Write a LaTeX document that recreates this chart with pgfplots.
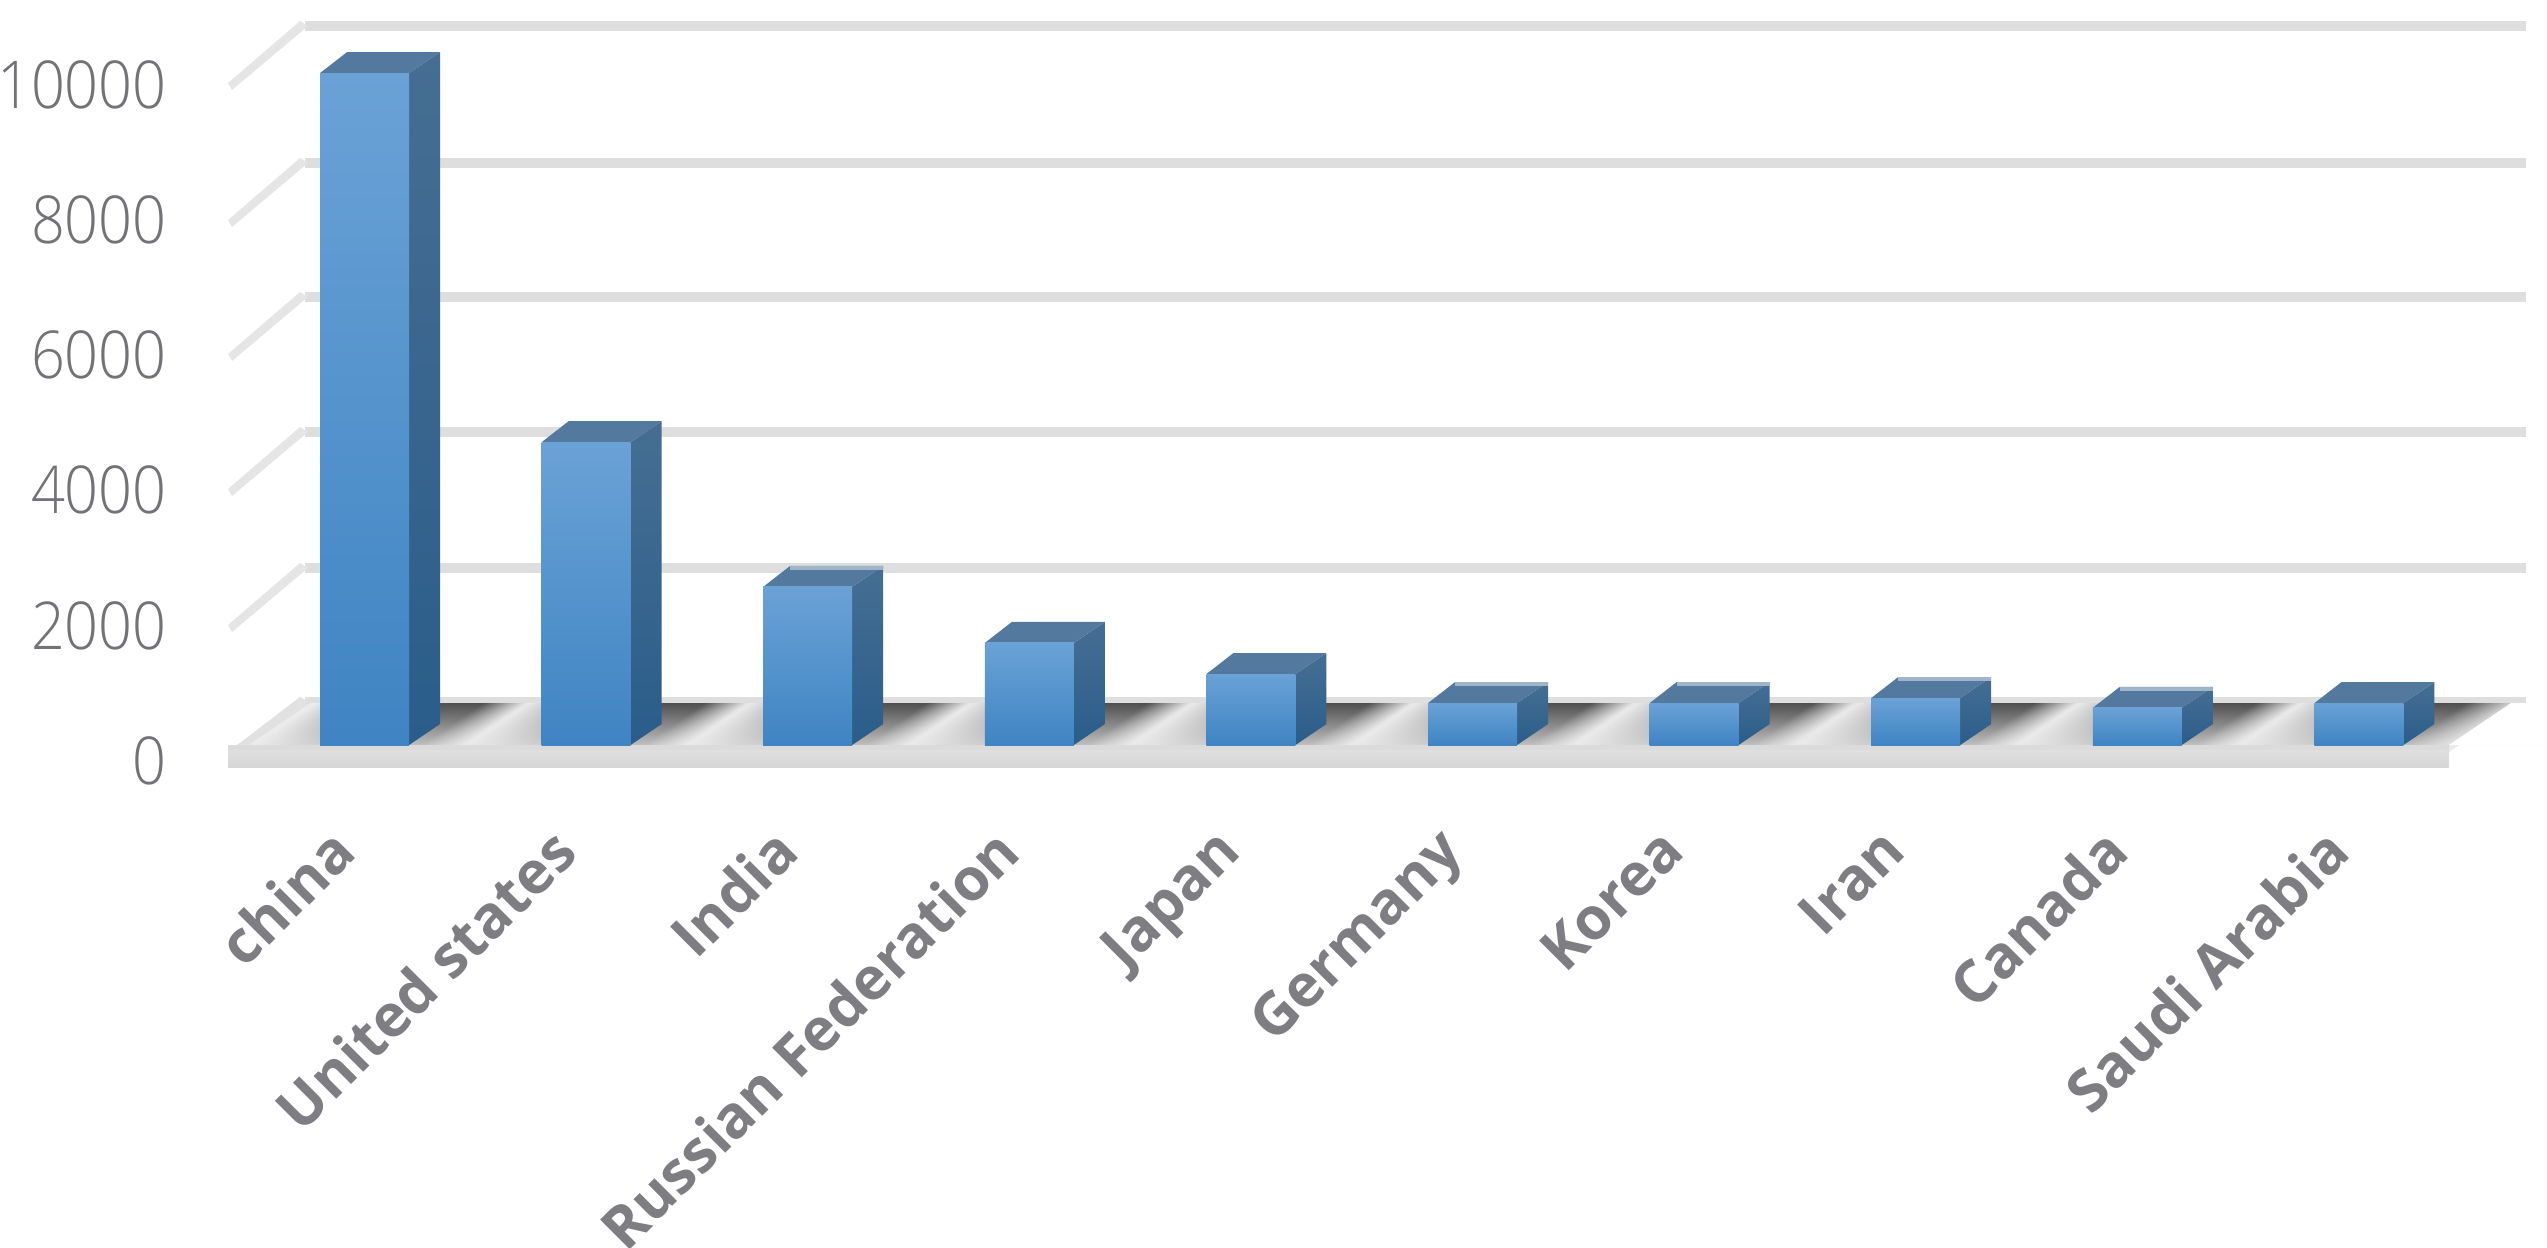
\documentclass[border=0pt]{standalone}
\usepackage{pgfplots}
\pgfplotsset{compat=1.18}
\usepackage{fontspec}
\setmainfont{Open Sans}
\newfontfamily\tickf{Open Sans Light}[FakeStretch=0.9]
\definecolor{tickgray}{HTML}{737377}
\definecolor{labgray}{HTML}{7E7E82}
\definecolor{grid}{HTML}{DEDEDE}
\definecolor{floorc}{HTML}{EBEBEB}
\definecolor{sidetop}{HTML}{466E93}
\definecolor{sidebot}{HTML}{2A5D8A}
\definecolor{topface}{HTML}{54799E}
\definecolor{fronttop}{HTML}{6AA2D6}
\definecolor{frontbot}{HTML}{3F84C3}
% pixel helper: all decoration polygons given in picture pixels
\newcommand\quadpx[9]{%
 \pgfmathsetmacro\xa{(#2-364.5)/221.6}\pgfmathsetmacro\ya{(745-(#3))/0.0676}%
 \pgfmathsetmacro\xb{(#4-364.5)/221.6}\pgfmathsetmacro\yb{(745-(#5))/0.0676}%
 \pgfmathsetmacro\xc{(#6-364.5)/221.6}\pgfmathsetmacro\yc{(745-(#7))/0.0676}%
 \pgfmathsetmacro\xd{(#8-364.5)/221.6}\pgfmathsetmacro\yd{(745-(#9))/0.0676}%
 \edef\tmp{\noexpand\addplot[draw=none,forget plot,#1] coordinates {(\xa,\ya)(\xb,\yb)(\xc,\yc)(\xd,\yd)} --cycle;}\tmp}
\newcommand\gridline[1]{% #1 = back pixel y
 \pgfmathsetmacro\gb{#1}\pgfmathsetmacro\gf{#1+59}%
 \quadpx{fill=grid}{305}{\gb-5}{2526}{\gb-5}{2526}{\gb+5}{305}{\gb+5}%
 \quadpx{fill=grid!80}{300}{\gb-5}{308}{\gb}{232}{\gf+5}{228}{\gf-2}}
% one shadow strip: u = x on back edge, d = darkness
\newcommand\strip[2]{%
 \pgfmathsetmacro\ua{#1}\pgfmathsetmacro\ub{#1+5}\pgfmathsetmacro\la{#1-62}\pgfmathsetmacro\lb{#1+5-62}%
 \pgfmathsetmacro\dd{#2}\pgfmathsetmacro\de{0.28*#2}%
 \quadpx{top color=black!\dd!floorc,bottom color=black!\de!floorc}{\ua}{703}{\ub}{703}{\lb}{745}{\la}{745}}
\begin{document}
\begin{tikzpicture}
\useasboundingbox (0,0) rectangle (636.75pt,311.75pt);
\clip (0,0) rectangle (636.75pt,311.75pt);
\begin{axis}[
  at={(0,0)},anchor=south west,
  scale only axis,width=636.75pt,height=311.75pt,
  xmin=-1.6449,xmax=9.8488,ymin=-7426,ymax=11021,
  axis line style={draw=none},
  tick style={draw=none},
  xtick={0,...,9},
  xticklabels={china,United states,India,Russian Federation,Japan,Germany,Korea,Iran,Canada,Saudi Arabia},
  x tick label style={xshift=-9.4pt,yshift=110.7pt,rotate=45,anchor=north east,font=\fontsize{14.7}{16}\bfseries,text=labgray},
  ytick={0,2000,4000,6000,8000,10000},
  scaled y ticks=false,
  y tick label style={font=\fontsize{16.5}{20}\tickf,text=tickgray,xshift=45.2pt,yshift=-3.9pt},
  /pgf/number format/.cd,1000 sep={},assume math mode=true,
]
% gridlines
\gridline{702}\gridline{568}\gridline{432}\gridline{297}\gridline{163}\gridline{26}
% floor
\quadpx{fill=floorc}{305}{700}{2526}{700}{2449}{752}{228}{752}
\quadpx{fill=grid}{305}{697}{2526}{697}{2526}{703}{305}{703}
% shadows
\foreach \t in {96,100,...,168}{%
  \pgfmathsetmacro\uu{218.4+\t}%
  \pgfmathsetmacro\dk{46*(\t-96)/72}%
  \strip{\uu}{\dk}%
}
\foreach \k in {0,...,9}{%
  \pgfmathsetmacro\base{440+221.6*\k}%
  \foreach \t in {0,4,...,168}{%
    \pgfmathsetmacro\uu{\base+\t}%
    \pgfmathsetmacro\dk{\t<42 ? 66 : (\t<86 ? 66*(86-\t)/44 : 46*(\t-86)/80)}%
    \ifnum\k=9 \pgfmathsetmacro\dk{\t<30 ? 66 : (\t<86 ? 66*(86-\t)/56 : 0)}\fi
    \strip{\uu}{\dk}%
  }%
}
\quadpx{fill=white}{2449}{745}{2560}{745}{2560}{703}{2511}{703}
\quadpx{fill=grid!90}{300}{697}{310}{703}{238}{752}{228}{752}
% front band of the floor
\quadpx{fill=black!14}{228}{745}{2449}{745}{2449}{751}{228}{751}
\quadpx{top color=floorc!95!black,bottom color=black!16}{228}{750}{2449}{750}{2449}{767}{228}{767}
% side and top faces of the bars
\foreach \k/\v/\hl in {0/9940/0,1/4480/0,2/2340/1,3/1510/0,4/1050/0,5/620/1,6/620/1,7/695/1,8/550/1,9/620/0}{%
  \pgfmathsetmacro\L{320+221.6*\k}\pgfmathsetmacro\R{\L+89}%
  \pgfmathsetmacro\T{745-0.0676*\v}%
  \pgfmathsetmacro\Bx{\L+27}\pgfmathsetmacro\Rx{\R+31}%
  \pgfmathsetmacro\Tb{\T-21}\pgfmathsetmacro\Tc{\T-17}\pgfmathsetmacro\Bxc{\L+30}%
  \quadpx{top color=sidetop,bottom color=sidebot}{\R}{745}{\Rx}{724}{\Rx}{\Tb}{\R}{\T}%
  \quadpx{fill=topface}{\L}{\T}{\R}{\T}{\Rx}{\Tb}{\Bx}{\Tb}%
  \ifnum\hl=1 \quadpx{fill=topface!55!white}{\Bx}{\Tb}{\Rx}{\Tb}{\Rx}{\Tc}{\Bx}{\Tc}\fi
}
% the bars
\pgfplotsset{barfront/.style={ybar,bar shift=0pt,bar width=22.25pt,draw=none,top color=fronttop,bottom color=frontbot}}
\addplot[barfront] coordinates {(0,9940)};
\addplot[barfront] coordinates {(1,4480)};
\addplot[barfront] coordinates {(2,2340)};
\addplot[barfront] coordinates {(3,1510)};
\addplot[barfront] coordinates {(4,1050)};
\addplot[barfront] coordinates {(5,620)};
\addplot[barfront] coordinates {(6,620)};
\addplot[barfront] coordinates {(7,695)};
\addplot[barfront] coordinates {(8,550)};
\addplot[barfront] coordinates {(9,620)};
\end{axis}
\end{tikzpicture}
\end{document}
